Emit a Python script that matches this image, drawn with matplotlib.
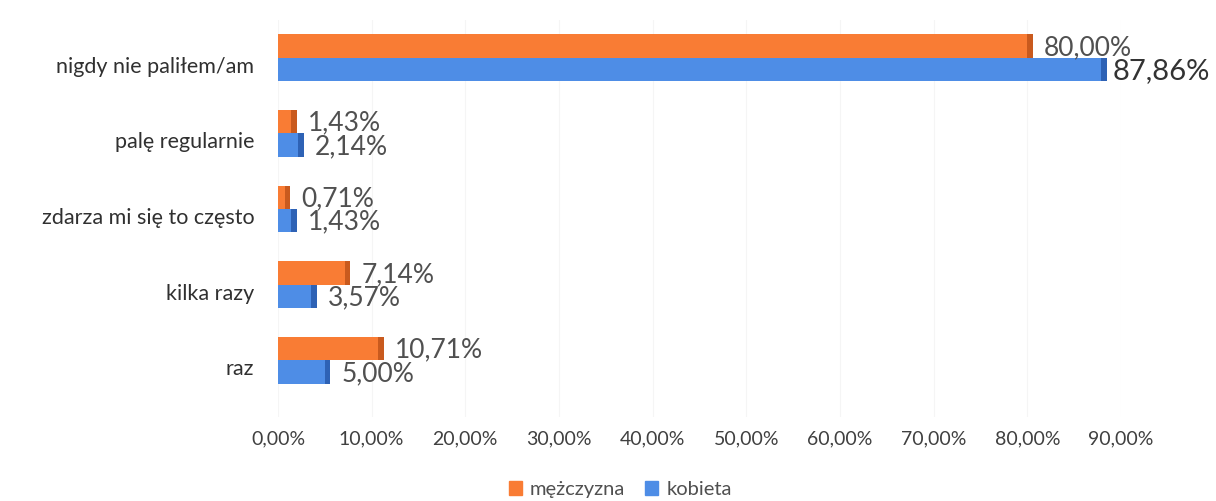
import matplotlib
matplotlib.use("Agg")
import matplotlib.pyplot as plt
import matplotlib.transforms as mtransforms
from matplotlib.patches import Patch
import numpy as np

plt.rcParams["font.family"] = ["Lato", "DejaVu Sans"]

categories = ["nigdy nie paliłem/am", "palę regularnie", "zdarza mi się to często",
              "kilka razy", "raz"]
men = [80.00, 1.43, 0.71, 7.14, 10.71]
women = [87.86, 2.14, 1.43, 3.57, 5.00]
series_names = ["mężczyzna", "kobieta"]
xticks = [0, 10, 20, 30, 40, 50, 60, 70, 80, 90]

orange, orange_dark = "#F97C34", "#C95A1E"
blue, blue_dark = "#4E8DE6", "#2E62B5"
text_col = "#404040"

fig = plt.figure(figsize=(12.16, 5.01), dpi=100)
ax = fig.add_axes([0.2286, 0.1677, 0.6933, 0.7923])

y = np.arange(len(categories))[::-1].astype(float)
h = 0.31
cap = 0.6

# front faces
ax.barh(y + h / 2, men, height=h, color=orange, zorder=3)
ax.barh(y - h / 2, women, height=h, color=blue, zorder=3)
# darker end faces to mimic the 3D look
ax.barh(y + h / 2, [cap] * len(men), left=men, height=h, color=orange_dark, zorder=3)
ax.barh(y - h / 2, [cap] * len(women), left=women, height=h, color=blue_dark, zorder=3)


def fmt(v):
    return f"{v:.2f}%".replace(".", ",")


for yy, v in zip(y, men):
    ax.annotate(fmt(v), (v + cap, yy + h / 2), xytext=(8, -1), textcoords="offset points",
                va="center", ha="left", fontsize=19, color="#505050", zorder=5)
for yy, v in zip(y, women):
    big = v == max(women)
    ax.annotate(fmt(v), (v + cap, yy - h / 2), xytext=(4 if big else 8, -1),
                textcoords="offset points", va="center", ha="left",
                fontsize=21 if big else 19, color="#333333" if big else "#505050", zorder=5)

ax.set_xlim(0, 90)
ax.set_ylim(-0.75, 4.5)
ax.set_xticks(xticks)
ax.set_xticklabels([fmt(t) for t in xticks], fontsize=14, color=text_col)
ax.set_yticks(y)
ax.set_yticklabels(categories, fontsize=15.5, color="#303030")
ax.tick_params(axis="both", length=0)
ax.tick_params(axis="x", pad=10)
ax.tick_params(axis="y", pad=17)

shift = mtransforms.ScaledTranslation(0, -0.07, fig.dpi_scale_trans)
for lab in ax.get_yticklabels():
    lab.set_transform(lab.get_transform() + shift)

ax.grid(axis="x", color="#f5f5f5", linewidth=0.8, zorder=0)
for s in ax.spines.values():
    s.set_visible(False)

handles = [Patch(color=orange), Patch(color=blue)]
fig.legend(handles, series_names, loc="lower center", bbox_to_anchor=(0.51, -0.03),
           ncol=2, frameon=False, fontsize=14.5, labelcolor="#505050",
           handlelength=0.65, handleheight=0.65, handletextpad=0.4, columnspacing=1.0)

fig.savefig("out.png", dpi=100)
